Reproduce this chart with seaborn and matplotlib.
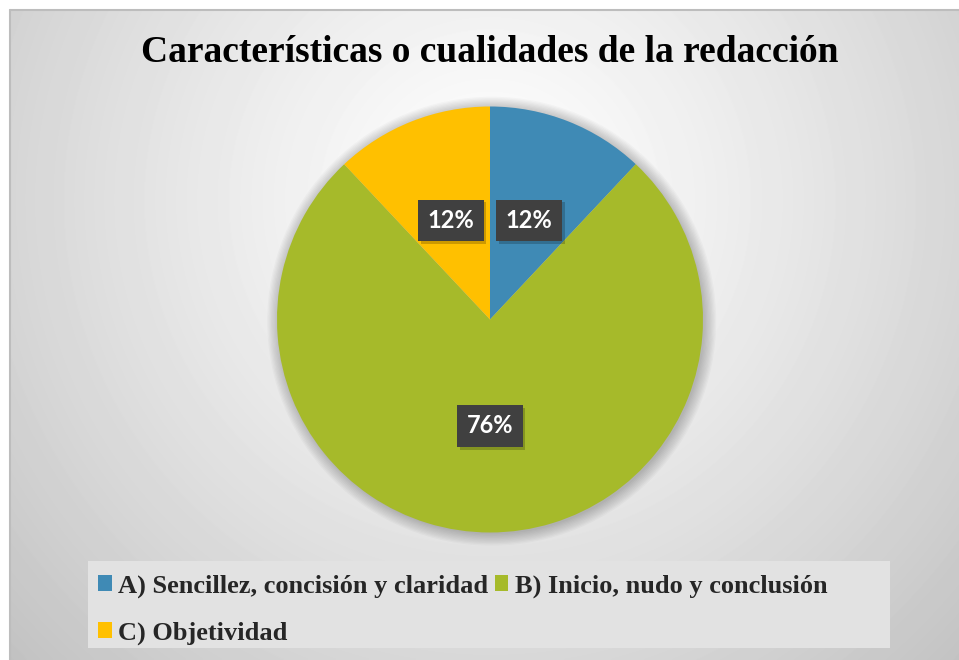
import numpy as np
import matplotlib
matplotlib.use("Agg")
import matplotlib.pyplot as plt
import matplotlib.patheffects as pe
from matplotlib.patches import Rectangle, Circle
import seaborn as sns

# chart data
categories = ["A) Sencillez, concisión y claridad",
              "B) Inicio, nudo y conclusión",
              "C) Objetividad"]
shares = [12, 76, 12]
colors = ["#3F8AB5", "#A6BA2A", "#FFC000"]
title = "Características o cualidades de la redacción"

sns.set_theme(style="white")
plt.rcParams["font.family"] = ["Liberation Serif", "DejaVu Serif"]

W, H = 959, 660
fig = plt.figure(figsize=(W / 100, H / 100), dpi=100)
fig.patch.set_facecolor("white")

# radial gradient background of the chart area
bg = fig.add_axes([10 / W, 0, (W - 10) / W, (H - 10) / H])
yy, xx = np.mgrid[10:H, 10:W]
d = np.hypot(xx - 490, yy - 200) / 665.0
shade = 1 - 0.24 * np.clip(d, 0, 1.2) ** 1.2
bg.imshow(shade, cmap="gray", vmin=0, vmax=1, aspect="auto",
          extent=[0, 1, 0, 1], interpolation="bilinear")
bg.set_axis_off()
fig.add_artist(plt.Line2D([10 / W, 1], [(H - 10) / H] * 2, color="#bdbdbd",
                          lw=1.5, transform=fig.transFigure))
fig.add_artist(plt.Line2D([10 / W] * 2, [0, (H - 10) / H], color="#bdbdbd",
                          lw=1.5, transform=fig.transFigure))

# pie
cx, cy, r = 490, 319.5, 213
ax = fig.add_axes([(cx - r) / W, (H - cy - r) / H, 2 * r / W, 2 * r / H])
for k in range(10):
    ax.add_patch(Circle((0.008, -0.008), 1.0 + 0.006 * k, color="black",
                        alpha=0.022, lw=0, zorder=0, clip_on=False))
wedges, texts, autotexts = ax.pie(
    shares, colors=colors, startangle=90, counterclock=False,
    autopct="%1.0f%%", pctdistance=0.5,
    wedgeprops=dict(linewidth=0),
    textprops=dict(color="white", fontsize=17, fontweight="bold",
                   family=["Lato", "DejaVu Sans"]))
for wdg in wedges:
    wdg.set_zorder(2)
for t in autotexts:
    t.set_zorder(5)
    t.set_bbox(dict(boxstyle="square,pad=0.4", facecolor="#404040",
                    edgecolor="none"))
    t.get_bbox_patch().set_path_effects([
        pe.SimplePatchShadow(offset=(2, -2), shadow_rgbFace="black", alpha=0.2),
        pe.Normal()])
ax.set_xlim(-1, 1)
ax.set_ylim(-1, 1)
ax.set_axis_off()

fig.text(490 / W, 1 - 53 / H, title, ha="center", va="center",
         fontsize=27, fontweight="bold", color="black")

# legend
fig.add_artist(Rectangle((88 / W, 1 - 648 / H), (890 - 88) / W, 87 / H,
                         transform=fig.transFigure, facecolor="#e2e2e2",
                         edgecolor="none", zorder=1))
order = [0, 2, 1]
leg = fig.legend([wedges[i] for i in order], [categories[i] for i in order],
                 loc="upper left", bbox_to_anchor=(80 / W, 1 - 556 / H),
                 ncol=2, frameon=False,
                 prop=dict(weight="bold", size=19),
                 handlelength=0.5, handleheight=0.55, handletextpad=0.25,
                 columnspacing=0.25, labelspacing=0.9, borderpad=0.2)
leg.set_zorder(3)

fig.savefig("out.png", dpi=100)
